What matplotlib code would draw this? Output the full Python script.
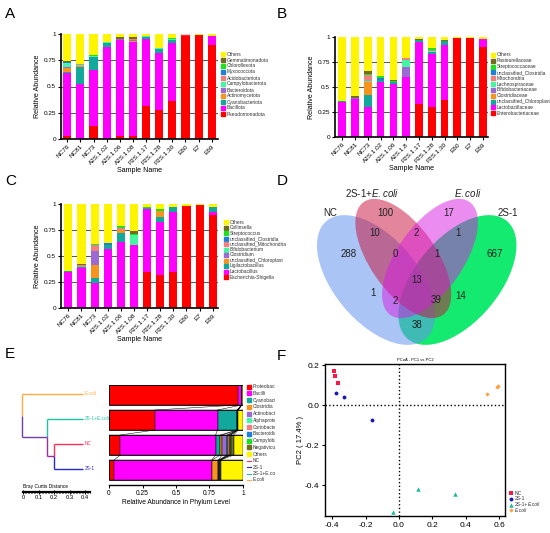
import numpy as np
import matplotlib
matplotlib.use('Agg')
import matplotlib.pyplot as plt
from matplotlib.patches import Ellipse, Rectangle
from matplotlib.lines import Line2D
from matplotlib.transforms import Bbox, TransformedBbox

plt.rcParams['font.family'] = ['Liberation Sans', 'DejaVu Sans']
plt.rcParams['axes.unicode_minus'] = False
plt.rcParams['mathtext.fontset'] = 'custom'
plt.rcParams['mathtext.rm'] = 'Liberation Sans'
plt.rcParams['mathtext.it'] = 'Liberation Sans:italic'

# ---------------- data ----------------
samples = ['NC76', 'NC81', 'NC73', 'A2S.1.02', 'A2S.1.06', 'A2S.1.08',
           'P2S.1.17', 'P2S.1.28', 'P2S.1.30', 'E60', 'E7', 'E69']
samples_B = ['NC76', 'NC81', 'NC73', 'A2S.1.02', 'A2S.1.06', 'A2S.1.8',
             'P2S.1.17', 'P2S.1.28', 'P2S.1.30', 'E60', 'E7', 'E69']

# Panel A (phylum), bottom -> top
phylum_names = ['Pseudomonadota', 'Bacillota', 'Cyanobacteriota', 'Actinomycetota',
                'Bacteroidota', 'Campylobacterota', 'Acidobacteriota', 'Myxococcota',
                'Chloroflexota', 'Gemmatimonadota', 'Others']
Pseudomonadota   = [0.03, 0.00, 0.125, 0.00, 0.03, 0.03, 0.31, 0.28, 0.365, 0.985, 0.99, 0.895]
Bacillota        = [0.60, 0.52, 0.535, 0.88, 0.91, 0.89, 0.64, 0.535, 0.545, 0.005, 0.00, 0.09]
Cyanobacteriota  = [0.01, 0.17, 0.125, 0.03, 0.00, 0.00, 0.02, 0.045, 0.03, 0, 0, 0]
Actinomycetota   = [0.04, 0.01, 0.00, 0.00, 0.00, 0.015, 0, 0, 0, 0, 0, 0]
Bacteroidota     = [0.005, 0.00, 0.00, 0.00, 0.01, 0.005, 0, 0, 0, 0, 0, 0]
Campylobacterota = [0.035, 0.005, 0.01, 0.01, 0.00, 0.00, 0.01, 0.01, 0.01, 0, 0, 0]
Acidobacteriota  = [0.005, 0.005, 0.00, 0.00, 0.00, 0.01, 0, 0, 0, 0, 0, 0]
Myxococcota      = [0.005, 0, 0, 0, 0, 0, 0, 0, 0, 0, 0, 0]
Chloroflexota    = [0.005, 0, 0.005, 0.005, 0, 0, 0, 0, 0.015, 0, 0, 0]
Gemmatimonadota  = [0.005, 0, 0, 0, 0.02, 0.02, 0, 0, 0, 0, 0, 0]
Others_A         = [0.26, 0.29, 0.20, 0.075, 0.03, 0.03, 0.02, 0.13, 0.035, 0.01, 0.01, 0.015]

# Panel B (family), bottom -> top
family_names = ['Enterobacteriaceae', 'Lactobacillaceae', 'unclassified_Chloroplast',
                'Clostridiaceae', 'Bifidobacteriaceae', 'Lachnospiraceae', 'Mitochondria',
                'unclassified_Clostridia', 'Streptococcaceae', 'Pasteurellaceae', 'Others']
Enterobacteriaceae = [0, 0, 0, 0, 0, 0, 0.325, 0.295, 0.365, 0.99, 0.995, 0.905]
Lactobacillaceae   = [0.345, 0.38, 0.30, 0.555, 0.535, 0.605, 0.63, 0.535, 0.56, 0, 0, 0.08]
Chloroplast_B      = [0.01, 0, 0.12, 0.015, 0.015, 0, 0.02, 0.025, 0.035, 0, 0, 0]
Clostridiaceae     = [0, 0, 0.13, 0, 0, 0, 0, 0, 0, 0, 0, 0]
Bifidobacteriaceae = [0, 0.01, 0, 0, 0, 0.095, 0, 0, 0, 0, 0, 0]
Lachnospiraceae    = [0, 0, 0.01, 0, 0, 0.075, 0, 0.01, 0, 0, 0, 0]
Mitochondria       = [0, 0, 0.06, 0, 0, 0.015, 0, 0.005, 0, 0, 0, 0]
Clostridia_B       = [0, 0, 0, 0.02, 0, 0, 0, 0, 0, 0, 0, 0]
Streptococcaceae   = [0, 0, 0.01, 0.02, 0.01, 0, 0, 0.025, 0, 0, 0, 0]
Pasteurellaceae    = [0, 0.02, 0.03, 0, 0.01, 0, 0.01, 0, 0.015, 0, 0, 0]
Others_B           = [0.645, 0.59, 0.34, 0.39, 0.43, 0.21, 0.015, 0.105, 0.025, 0.01, 0.005, 0.015]

# Panel C (genus), bottom -> top
genus_names = ['Escherichia-Shigella', 'Lactobacillus', 'Ligilactobacillus',
               'unclassified_Chloroplast', 'Clostridium', 'Bifidobacterium',
               'unclassified_Mitochondria', 'unclassified_Clostridia', 'Streptococcus',
               'Collinsella', 'Others']
Escherichia       = [0, 0, 0, 0, 0, 0, 0.35, 0.32, 0.35, 0.985, 0.99, 0.895]
Lactobacillus     = [0.35, 0.38, 0.24, 0.565, 0.63, 0.605, 0.60, 0.51, 0.575, 0, 0, 0.025]
Ligilactobacillus = [0.01, 0.01, 0.05, 0.04, 0.09, 0, 0.015, 0.045, 0.045, 0, 0, 0.055]
Chloroplast_C     = [0, 0, 0.12, 0, 0.03, 0, 0, 0.06, 0, 0, 0, 0]
Clostridium       = [0, 0, 0.14, 0, 0, 0, 0, 0, 0, 0, 0, 0]
Bifidobacterium   = [0, 0, 0, 0, 0, 0.095, 0, 0, 0, 0, 0, 0]
Mitochondria_C    = [0, 0.02, 0.055, 0, 0.02, 0, 0, 0, 0, 0, 0, 0]
Clostridia_C      = [0, 0, 0, 0.02, 0, 0, 0, 0, 0, 0, 0, 0]
Streptococcus     = [0, 0, 0.015, 0, 0.02, 0.015, 0.01, 0.015, 0, 0, 0, 0]
Collinsella       = [0, 0.01, 0, 0, 0, 0.025, 0, 0, 0, 0, 0, 0]
Others_C          = [0.64, 0.58, 0.38, 0.375, 0.21, 0.26, 0.025, 0.05, 0.03, 0.015, 0.01, 0.025]

# Panel D (Venn counts)
venn_sets = ['NC', '2S-1+E.coli', 'E.coli', '2S-1']
venn_counts = [100, 17, 10, 2, 1, 288, 0, 1, 667, 13, 1, 2, 39, 14, 38]

# Panel E (class level, groups top -> bottom)
E_groups = ['E.coli', '2S-1+E.coli', 'NC', '2S-1']
E_classes = ['Proteobacteria', 'Bacilli', 'Cyanobacteriia', 'Clostridia', 'Actinobacteria',
             'Alphaproteobacteria', 'Coriobacteriia', 'Bacteroidia', 'Campylobacteria',
             'Negativicutes', 'Others']
E_Ecoli  = [0.965, 0.025, 0, 0, 0, 0, 0, 0, 0, 0, 0.01]
E_2S1Ec  = [0.343, 0.467, 0.145, 0.003, 0.002, 0, 0, 0, 0.002, 0.003, 0.035]
E_NC     = [0.085, 0.71, 0.035, 0.015, 0.035, 0.01, 0.01, 0.005, 0.005, 0.02, 0.07]
E_2S1    = [0.037, 0.73, 0.003, 0.045, 0.005, 0.002, 0.002, 0.002, 0.002, 0.008, 0.164]
dend_heights = [0.187, 0.232, 0.394]   # (NC,2S-1), (+2S-1+E.coli), (+E.coli)

# Panel F (PCoA)
pc_NC_x = [-0.388, -0.382, -0.364];   pc_NC_y = [0.172, 0.149, 0.110]
pc_2S_x = [-0.380, -0.332, -0.160];   pc_2S_y = [0.064, 0.040, -0.074]
pc_2E_x = [-0.038, 0.112, 0.336];     pc_2E_y = [-0.537, -0.421, -0.445]
pc_E_x  = [0.530, 0.588, 0.594];      pc_E_y  = [0.055, 0.094, 0.098]

# ---------------- style ----------------
pal = ['#FF0000', '#FF00FF', '#12A89C', '#F7941D', '#9B6BD3', '#45F5A2',
       '#F08080', '#1F80D8', '#1EE01E', '#716C1E', '#FFF500']
grp_col = {'NC': '#FF2D5A', '2S-1': '#2A2AC8', '2S-1+E.coli': '#1CC4A4', 'E.coli': '#FFAA44'}

W, H = 550, 533
fig = plt.figure(figsize=(5.5, 5.33), dpi=100)


def R(l, t, r, b):
    return [l / W, 1 - b / H, (r - l) / W, (b - t) / H]


def manual_legend(x, y0, dy, names, colors, fs=3.5, clip=None):
    for i, (n, c) in enumerate(zip(names, colors)):
        y = y0 + i * dy
        fig.patches.append(Rectangle((x / W, 1 - (y + 2) / H), 4 / W, 4 / H,
                                     transform=fig.transFigure, color=c, figure=fig))
        t = fig.text((x + 6) / W, 1 - y / H, n, fontsize=fs, va='center', ha='left', color='#333333')
        if clip is not None:
            t.set_clip_box(TransformedBbox(Bbox.from_extents(0, 0, clip / W, 1), fig.transFigure))
            t.set_clip_on(True)


def stacked(rect, labels, series, names, xlim, width, leg):
    ax = fig.add_axes(R(*rect))
    x = np.arange(len(labels))
    bottom = np.zeros(len(labels))
    for v, c in zip(series, pal):
        v = np.asarray(v, float)
        ax.bar(x, v, width, bottom=bottom, color=c, lw=0, zorder=2)
        bottom += v
    for g in [0.25, 0.5, 0.75]:
        ax.axhline(g, color='#555555', lw=0.7, zorder=1)
    ax.set_xlim(*xlim)
    ax.set_ylim(0, 1.0)
    ax.set_yticks([0, 0.25, 0.5, 0.75, 1])
    ax.set_yticklabels(['0', '0.25', '0.5', '0.75', '1'], fontsize=4.6)
    ax.set_xticks(x)
    ax.set_xticklabels(labels, rotation=45, ha='right', rotation_mode='anchor', fontsize=4.6)
    ax.tick_params(length=2, width=0.8, pad=1.5)
    for s in ['top', 'right']:
        ax.spines[s].set_visible(False)
    for s in ['left', 'bottom']:
        ax.spines[s].set_linewidth(1.2)
    ax.set_ylabel('Relative Abundance', fontsize=5.1, labelpad=2)
    ax.set_xlabel('Sample Name', fontsize=5.1, labelpad=1)
    manual_legend(leg[0], leg[1], leg[2], names[::-1], pal[::-1])
    return ax


# Panel A
stacked((61, 34, 218, 139), samples,
        [Pseudomonadota, Bacillota, Cyanobacteriota, Actinomycetota, Bacteroidota,
         Campylobacterota, Acidobacteriota, Myxococcota, Chloroflexota, Gemmatimonadota, Others_A],
        phylum_names, (-0.48, 11.48), 0.62, (221, 54, 6.0))
# Panel B
stacked((335, 37, 488, 137), samples_B,
        [Enterobacteriaceae, Lactobacillaceae, Chloroplast_B, Clostridiaceae, Bifidobacteriaceae,
         Lachnospiraceae, Mitochondria, Clostridia_B, Streptococcaceae, Pasteurellaceae, Others_B],
        family_names, (-0.57, 11.4), 0.6, (491, 55, 5.83))
# Panel C
stacked((61, 204, 218, 308), samples,
        [Escherichia, Lactobacillus, Ligilactobacillus, Chloroplast_C, Clostridium, Bifidobacterium,
         Mitochondria_C, Clostridia_C, Streptococcus, Collinsella, Others_C],
        genus_names, (-0.56, 11.4), 0.62, (224, 222, 5.5))

# Panel D: Venn
axd = fig.add_axes(R(300, 185, 535, 350))
axd.set_xlim(300, 535)
axd.set_ylim(350, 185)
axd.axis('off')
ell = [((457.4, 280), 154, 84, -50, '#00E864', 0.92),   # 2S-1
       ((376, 280), 154, 84, 50, '#6495ED', 0.55),      # NC
       ((403.3, 258.5), 138, 66, 55, '#C80E38', 0.5),   # 2S-1+E.coli
       ((430, 258.5), 138, 66, -55, '#D81CE2', 0.5)]    # E.coli
for (c, w, h, a, col, al) in ell:
    axd.add_patch(Ellipse(c, w, h, angle=a, facecolor=col, alpha=al, edgecolor='none'))
set_pos = [(330, 213), (371.7, 192.7), (468, 192.7), (508, 213)]
set_txt = ['NC', '2S-1+$\\mathit{E.coli}$', '$\\mathit{E.coli}$', '2S-1']
for (px, py), t in zip(set_pos, set_txt):
    axd.text(px, py, t, fontsize=7, ha='center', va='center', color='#222222')
num_pos = [(385, 212.7), (449, 212.7), (375, 232.7), (416.7, 232.7), (458.3, 232.7),
           (348.3, 254), (395, 254), (436.7, 254), (494.3, 254), (416.7, 280),
           (373.3, 292.7), (395.7, 301), (436, 300), (460.7, 296), (416.7, 325)]
for (px, py), n in zip(num_pos, venn_counts):
    axd.text(px, py, str(n), fontsize=7, ha='center', va='center', color='#222222')

# Panel E: dendrogram
axt = fig.add_axes(R(10, 381, 100, 481))
axt.set_xlim(0.471, -0.1097)
axt.set_ylim(3.5, -0.5)
axt.axis('off')
h1, h2, h3 = dend_heights
pur1 = '#9A2C9E'
pur2 = '#7040A8'
lw = 1.0
segs = [([0, h1], [2, 2], grp_col['NC']),
        ([0, h1], [3, 3], grp_col['2S-1']),
        ([h1, h1], [2, 2.5], grp_col['NC']),
        ([h1, h1], [2.5, 3], grp_col['2S-1']),
        ([h1, h2], [2.5, 2.5], pur1),
        ([0, h2], [1, 1], grp_col['2S-1+E.coli']),
        ([h2, h2], [1, 1.75], grp_col['2S-1+E.coli']),
        ([h2, h2], [1.75, 2.5], pur1),
        ([h2, h3], [1.75, 1.75], pur2),
        ([0, h3], [0, 0], grp_col['E.coli']),
        ([h3, h3], [0, 0.9], grp_col['E.coli']),
        ([h3, h3], [0.9, 1.75], pur2)]
for xs, ys, c in segs:
    axt.plot(xs, ys, color=c, lw=lw, solid_capstyle='butt')
for i, g in enumerate(E_groups):
    axt.text(-0.01, i, g, color=grp_col[g], fontsize=3.4, ha='left', va='center')

# scale bar
axs = fig.add_axes(R(23, 484, 90, 492))
axs.set_xlim(0, 0.432)
axs.set_ylim(0, 1)
for s in ['top', 'right', 'left']:
    axs.spines[s].set_visible(False)
axs.spines['bottom'].set_linewidth(1.6)
axs.set_yticks([])
axs.set_xticks([0, 0.1, 0.2, 0.3, 0.4])
axs.set_xticklabels(['0', '0.1', '0.2', '0.3', '0.4'], fontsize=4.2)
axs.set_xticks(np.arange(0, 0.431, 0.01), minor=True)
axs.tick_params(axis='x', which='major', length=2.5, width=0.8, direction='inout', pad=1)
axs.tick_params(axis='x', which='minor', length=2.0, width=0.6, direction='inout')
axs.patch.set_alpha(0)
fig.text(23 / W, 1 - 486.7 / H, 'Bray Curtis Distance', fontsize=3.5, va='center', ha='left')

# Panel E: bars
axe = fig.add_axes(R(109, 385, 243, 485))
E_vals = [E_Ecoli, E_2S1Ec, E_NC, E_2S1]
cums = []
for i, vals in enumerate(E_vals):
    left = 0.0
    cum = [0.0]
    for v, c in zip(vals, pal):
        axe.barh(i, v, left=left, height=0.8, color=c, edgecolor='black', lw=0.35)
        left += v
        cum.append(left)
    axe.barh(i, left, height=0.8, fill=False, edgecolor='black', lw=0.6)
    cums.append(cum)
for i in range(len(E_vals) - 1):
    for k in range(1, len(cums[i]) - 1):
        axe.plot([cums[i][k], cums[i + 1][k]], [i + 0.4, i + 0.6], color='black', lw=0.35)
axe.set_xlim(0, 1.0)
axe.set_ylim(3.6, -0.4)
axe.set_yticks([])
for s in ['top', 'right', 'left']:
    axe.spines[s].set_visible(False)
axe.spines['bottom'].set_linewidth(1.0)
axe.set_xticks([0, 0.25, 0.5, 0.75, 1])
axe.set_xticklabels(['0', '0.25', '0.5', '0.75', '1'], fontsize=4.8)
axe.tick_params(axis='x', length=2, width=0.7, pad=1.5)
axe.set_xlabel('Relative Abundance in Phylum Level', fontsize=4.8, labelpad=1.5)
axe.patch.set_alpha(0)
manual_legend(246.7, 386.7, 6.73, E_classes, pal, fs=3.5, clip=275)
for j, g in enumerate(['NC', '2S-1', '2S-1+E.coli', 'E.coli']):
    y = 461 + j * 6.33
    fig.add_artist(Line2D([247 / W, 251 / W], [1 - y / H, 1 - y / H], color=grp_col[g], lw=0.8,
                          transform=fig.transFigure))
    t = fig.text(252.3 / W, 1 - y / H, g, fontsize=3.5, va='center', ha='left', color='#333333')
    t.set_clip_box(TransformedBbox(Bbox.from_extents(0, 0, 275 / W, 1), fig.transFigure))
    t.set_clip_on(True)

# Panel F: PCoA
axf = fig.add_axes(R(325, 364, 505, 516))
axf.axvline(0, color='black', ls=':', lw=1.0)
axf.axhline(0, color='black', ls=':', lw=1.0)
axf.plot(pc_NC_x, pc_NC_y, 's', color='#FF1744', ms=2.6, mew=0)
axf.plot(pc_2S_x, pc_2S_y, 'o', color='#1A1AB0', ms=2.8, mew=0)
axf.plot(pc_2E_x, pc_2E_y, '^', color='#1ABC9C', ms=3.2, mew=0)
axf.plot(pc_E_x, pc_E_y, 'D', color='#FFA040', ms=2.2, mew=0)
axf.set_xlim(-0.444, 0.636)
axf.set_ylim(-0.555, 0.207)
axf.set_xticks([-0.4, -0.2, 0.0, 0.2, 0.4, 0.6])
axf.set_xticklabels(['-0.4', '-0.2', '0.0', '0.2', '0.4', '0.6'], fontsize=6)
axf.set_yticks([-0.4, -0.2, 0.0, 0.2])
axf.set_yticklabels(['-0.4', '-0.2', '0.0', '0.2'], fontsize=6)
axf.tick_params(length=2.5, width=0.8, pad=1.5)
for s in axf.spines.values():
    s.set_linewidth(1.0)
axf.set_ylabel('PC2 ( 17.4% )', fontsize=5.5, labelpad=1)
axf.set_title('PCoA - PC1 vs PC2', fontsize=3, pad=2)
f_leg = [('NC', '', 's', '#FF1744', 2.6), ('2S-1', '', 'o', '#1A1AB0', 2.8),
         ('2S-1+', 'E.coli', '^', '#1ABC9C', 3.2), ('', 'E.coli', 'D', '#FFA040', 2.2)]
for j, (lab, itl, m, c, ms) in enumerate(f_leg):
    y = 493.3 + j * 5.7
    fig.add_artist(Line2D([510.7 / W], [1 - y / H], marker=m, color=c, ms=ms, mew=0,
                          transform=fig.transFigure))
    t1 = fig.text(515 / W, 1 - y / H, lab, fontsize=3.6, va='center', ha='left', color='#333333')
    if itl:
        axf.annotate(itl, xy=(1, 0.5), xycoords=t1, fontsize=3.6, fontstyle='italic',
                     va='center', ha='left', color='#333333', annotation_clip=False)

# Panel letters
for lab, (px, py) in zip('ABCDEF', [(5, 7), (277, 7), (5, 174), (277, 174), (5, 347), (277, 349)]):
    fig.text(px / W, 1 - py / H, lab, fontsize=11, va='top', ha='left')

fig.savefig('out.png', dpi=100)
